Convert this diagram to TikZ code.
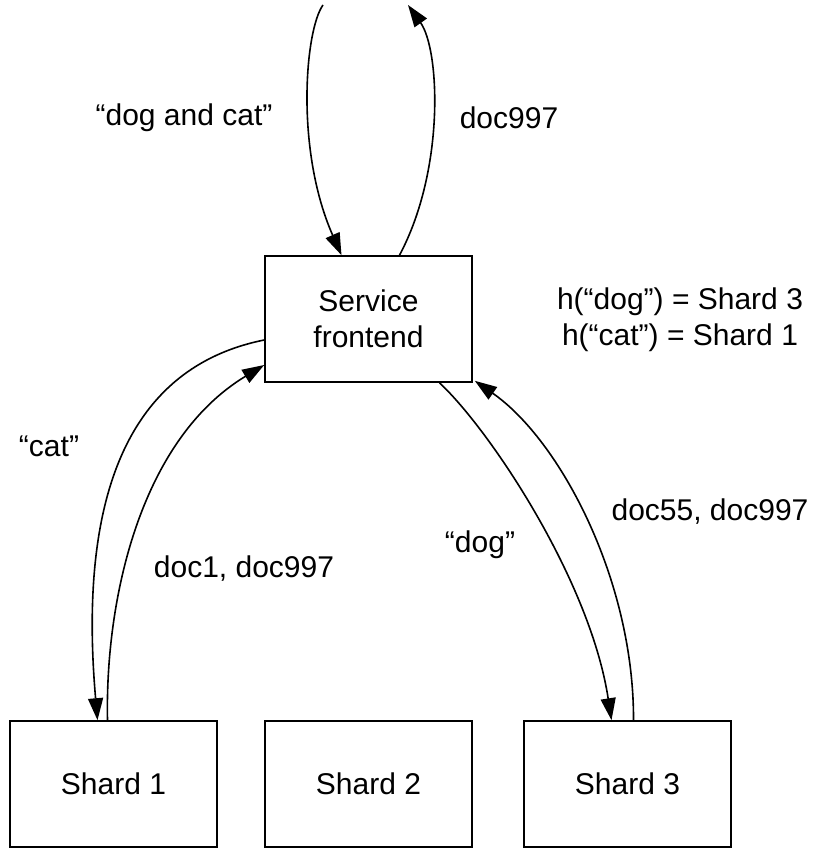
\documentclass[tikz,border=0pt]{standalone}
\usepackage{fontspec}
\setmainfont{Liberation Sans}
\usetikzlibrary{arrows.meta}
\begin{document}
\begin{tikzpicture}[x=1pt,y=-1pt,
  box/.style={draw,line width=1.6pt,minimum width=207pt,minimum height=126pt,
    inner sep=0pt,align=center,font=\fontsize{30}{36}\selectfont},
  lbl/.style={inner sep=0pt,align=center,font=\fontsize{30}{36}\selectfont},
  conn/.style={line width=1.6pt,-{Triangle[length=22pt,width=15pt]}}]
\useasboundingbox (0,0) rectangle (813,851);

% boxes
\node[box] (fe) at (368.5,319) {Service\\frontend};
\node[box] (s1) at (113.5,784) {Shard 1};
\node[box] (s2) at (368.5,784) {Shard 2};
\node[box] (s3) at (627.5,784) {Shard 3};

% free ends of the client request and reply
\coordinate (qin) at (323,5);
\coordinate (qout) at (408,5);

% client <-> frontend
\draw[conn] (qin) .. controls (305,30) and (295,150) .. ([xshift=-27pt]fe.north);
\draw[conn] ([xshift=31pt]fe.north) .. controls (445,170) and (440,50) .. (qout);

% frontend <-> shard 1
\draw[conn] ([yshift=-21pt]fe.west) .. controls (115,370) and (80,520) .. ([xshift=-16pt]s1.north);
\draw[conn] ([xshift=-6pt]s1.north) .. controls (105,600) and (140,440) .. ([yshift=-46pt]fe.west);

% frontend <-> shard 3
\draw[conn] ([xshift=71pt]fe.south) .. controls (490,430) and (590,580) .. ([xshift=-16pt]s3.north);
\draw[conn] ([xshift=6pt]s3.north) .. controls (634,580) and (560,440) .. ([xshift=2pt,yshift=2pt]fe.south east);

% labels
\node[lbl] (l1) at (184,118) {“dog and cat”};
\node[lbl] (l2) at (509,118) {doc997};
\node[lbl] (l3) at (680,320) {h(“dog”) = Shard 3\\h(“cat”) = Shard 1};
\node[lbl] (l4) at (49,446) {“cat”};
\node[lbl] (l5) at (244,569) {doc1, doc997};
\node[lbl] (l6) at (480,545) {“dog”};
\node[lbl] (l7) at (710,512) {doc55, doc997};
\end{tikzpicture}
\end{document}
